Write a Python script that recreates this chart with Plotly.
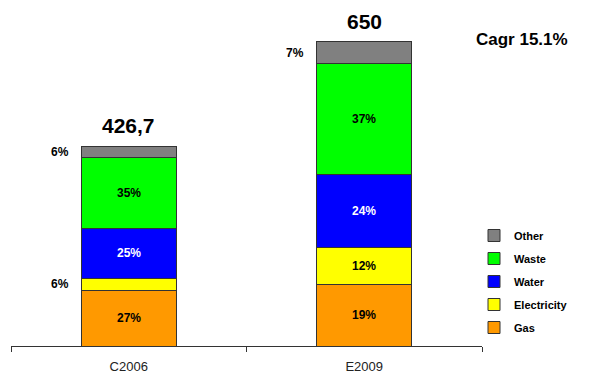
import plotly.graph_objects as go

categories = ["C2006", "E2009"]
totals = [426.7, 650]
total_labels = ["426,7", "650"]
series_names = ["Gas", "Electricity", "Water", "Waste", "Other"]
gas = [119.5, 132]
electricity = [25.6, 78]
water = [106.7, 156]
waste = [151.4, 238]
other = [23.5, 46]
gas_pct = ["27%", "19%"]
electricity_pct = ["6%", "12%"]
water_pct = ["25%", "24%"]
waste_pct = ["35%", "37%"]
other_pct = ["6%", "7%"]
cagr_text = "Cagr 15.1%"

values = [gas, electricity, water, waste, other]
pcts = [gas_pct, electricity_pct, water_pct, waste_pct, other_pct]
colors = ["#FF9900", "#FFFF00", "#0000FF", "#00FF00", "#808080"]
text_colors = ["black", "black", "white", "black", "black"]

FONT = "Liberation Sans, Arial"
L, R, T, B = 11, 107, 20, 32
W, H = 589, 378
pw, ph = W - L - R, H - T - B

fig = go.Figure()
annotations = []
base = [0.0, 0.0]
n = len(series_names)
for k, (name, vals, pc, col, tcol) in enumerate(zip(series_names, values, pcts, colors, text_colors)):
    fig.add_trace(go.Bar(
        x=categories, y=vals, name=name, width=0.405,
        marker=dict(color=col, line=dict(color="#333333", width=1)),
        legendgroup=name, legendrank=(n - k) * 10,
    ))
    for i, cat in enumerate(categories):
        mid = base[i] + vals[i] / 2
        small = vals[i] / totals[i] < 0.08
        if small:
            annotations.append(dict(x=cat, y=mid, text="<b>%s</b>" % pc[i], showarrow=False,
                                    xref="x", yref="y", xanchor="right", xshift=-58,
                                    font=dict(size=12, color="black", family=FONT)))
        else:
            annotations.append(dict(x=cat, y=mid, text="<b>%s</b>" % pc[i], showarrow=False,
                                    xref="x", yref="y",
                                    font=dict(size=12, color=tcol, family=FONT)))
        base[i] += vals[i]

for i, cat in enumerate(categories):
    annotations.append(dict(x=cat, y=totals[i], text="<b>%s</b>" % total_labels[i], showarrow=False,
                            xref="x", yref="y", yanchor="bottom", yshift=7,
                            font=dict(size=21, color="black", family=FONT)))

annotations.append(dict(x=(522 - L) / pw, y=(H - B - 40) / ph, xref="paper", yref="paper",
                        xanchor="center", yanchor="middle",
                        text="<b>%s</b>" % cagr_text, showarrow=False,
                        font=dict(size=17, color="black", family=FONT)))

fig.update_layout(
    barmode="stack",
    width=W, height=H,
    margin=dict(l=L, r=R, t=T, b=B, pad=0),
    plot_bgcolor="white", paper_bgcolor="white",
    annotations=annotations,
    font=dict(family=FONT, color="black"),
    legend=dict(x=(474 - L) / pw, y=(H - B - 221) / ph, xanchor="left", yanchor="top",
                traceorder="grouped", tracegroupgap=4,
                font=dict(size=11, family=FONT, color="black", weight="bold"),
                itemwidth=30),
    xaxis=dict(showline=True, linecolor="#333333", linewidth=1, ticks="outside",
               tickson="boundaries", ticklen=5, tickcolor="#333333",
               ticklabelstandoff=8, automargin=False,
               tickfont=dict(size=13, color="#222222", family=FONT),
               showgrid=False, fixedrange=True),
    yaxis=dict(range=[0, 697], visible=False, showgrid=False, zeroline=False),
    showlegend=True,
)
fig.write_html("out.html")
